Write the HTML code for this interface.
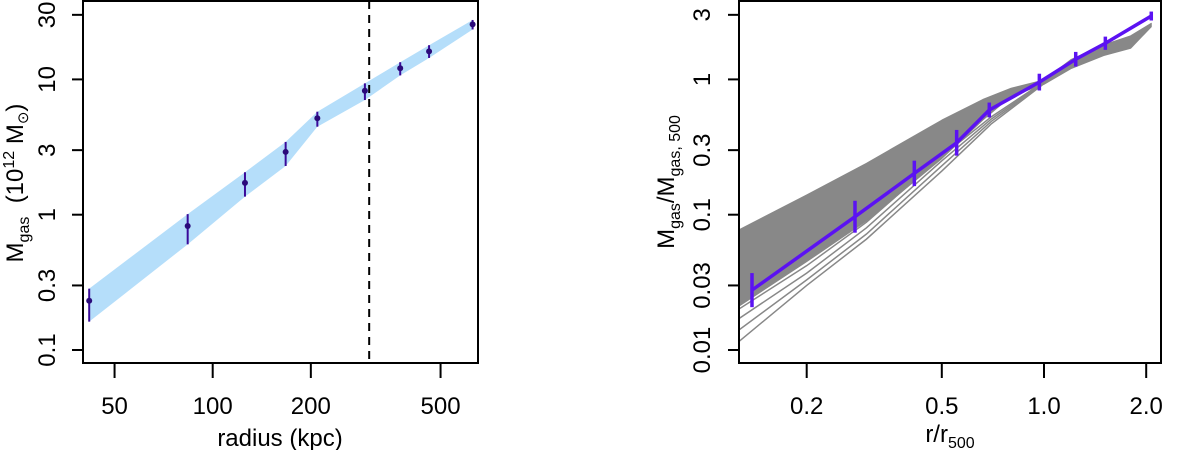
<!DOCTYPE html>
<html><head><meta charset="utf-8">
<style>
html,body{margin:0;padding:0;background:#fff;}
svg{display:block;font-family:"Liberation Sans",sans-serif;}
</style></head>
<body>
<svg id="chart" width="1200" height="450" viewBox="0 0 1200 450" xmlns="http://www.w3.org/2000/svg"></svg>
<script>
// ---------- Left panel data ----------
const radiusKpc = [41.8, 83.8, 125.6, 167.4, 209.4, 293, 376, 461, 627];
const mgas = [0.231, 0.825, 1.72, 2.91, 5.16, 8.24, 12.1, 16.1, 25.5];
const mgasHi = [0.284, 1.01, 2.06, 3.45, 5.77, 9.35, 13.4, 17.9, 27.5];
const mgasLo = [0.162, 0.604, 1.36, 2.29, 4.47, 7.04, 10.7, 14.4, 23.4];
const r500Kpc = 302;
const leftXTicks = [50, 100, 200, 500];
const leftYTicks = [0.1, 0.3, 1, 3, 10, 30];

// ---------- Right panel data ----------
const rScaled = [0.138, 0.2775, 0.415, 0.553, 0.690, 0.969, 1.24, 1.516, 2.07];
const mScaled = [0.0277, 0.0966, 0.202, 0.340, 0.594, 0.955, 1.41, 1.85, 2.94];
const mScaledErrDex = [0.126, 0.118, 0.094, 0.095, 0.055, 0.062, 0.054, 0.049, 0.033];
const envX = [0.126, 0.2, 0.3, 0.5, 0.66, 0.8, 1.0, 1.2, 1.5, 1.8, 2.07];
const envUpper = [0.077, 0.14, 0.24, 0.5, 0.71, 0.86, 0.99, 1.4, 1.8, 2.1, 2.6];
const envLower = [0.021, 0.045, 0.09, 0.26, 0.5, 0.75, 0.92, 1.2, 1.5, 1.7, 2.45];
const sampleX = [0.126, 0.2, 0.3, 0.5, 0.7, 1.0];
const sampleCurves = [
  [0.0115, 0.030, 0.066, 0.21, 0.47, 0.93],
  [0.014, 0.033, 0.072, 0.23, 0.49, 0.94],
  [0.017, 0.037, 0.080, 0.25, 0.51, 0.95],
  [0.020, 0.042, 0.088, 0.27, 0.53, 0.96]
];
const rightXTicks = [0.2, 0.5, 1.0, 2.0];
const rightXLabels = ["0.2", "0.5", "1.0", "2.0"];
const rightYTicks = [0.01, 0.03, 0.1, 0.3, 1, 3];
const rightYLabels = ["0.01", "0.03", "0.1", "0.3", "1", "3"];

const NS = "http://www.w3.org/2000/svg";
const svg = document.getElementById("chart");
function mk(tag, attrs, parent) {
  const e = document.createElementNS(NS, tag);
  for (const k in attrs) e.setAttribute(k, attrs[k]);
  (parent || svg).appendChild(e);
  return e;
}
const L10 = Math.log10;
const FS = 24;
// axis functions
const lx = v => 212.7 + L10(v / 100) * 326;
const ly = v => 350 - (L10(v) + 1) * 135.3;
const rx = v => 1044 + L10(v) * 339.5;
const ry = v => 350 - (L10(v) + 2) * 135.3;

// ===== LEFT PANEL =====
const gL = mk("g", {});


let pts = radiusKpc.map((r, i) => lx(r) + "," + ly(mgasHi[i]));
pts = pts.concat(radiusKpc.map((r, i) => lx(r) + "," + ly(mgasLo[i])).reverse());
const band = mk("polygon", {points: pts.join(" "), fill: "#b5defa", stroke: "none"}, gL);


const dash = mk("line", {x1: lx(r500Kpc), x2: lx(r500Kpc), y1: 1, y2: 363, stroke: "#000", "stroke-width": 2, "stroke-dasharray": "8,6"}, gL);


radiusKpc.forEach((r, i) => {
  const eb = mk("line", {x1: lx(r), x2: lx(r), y1: ly(mgasHi[i]), y2: ly(mgasLo[i]), stroke: "#3a0a9a", "stroke-width": 2}, gL);
  
  
  const c = mk("circle", {cx: lx(r), cy: ly(mgas[i]), r: 3, fill: "#2a0a7a"}, gL);
  
  
});
const frameL = mk("rect", {x: 83, y: 1, width: 395, height: 362, fill: "none", stroke: "#000", "stroke-width": 2}, gL);


leftXTicks.forEach(v => {
  const t = mk("line", {x1: lx(v), x2: lx(v), y1: 363, y2: 378, stroke: "#000", "stroke-width": 2}, gL);
  
  
  const tx = mk("text", {x: lx(v), y: 414, "text-anchor": "middle", "font-size": FS}, gL);
  tx.textContent = String(v);
  
  
});
leftYTicks.forEach(v => {
  const t = mk("line", {x1: 72, x2: 83, y1: ly(v), y2: ly(v), stroke: "#000", "stroke-width": 2}, gL);
  
  
  const tx = mk("text", {x: 0, y: 0, "text-anchor": "middle", "font-size": FS, transform: `translate(55,${ly(v)}) rotate(-90)`}, gL);
  tx.textContent = String(v);
  
  
});
const xtL = mk("text", {x: 280, y: 446, "text-anchor": "middle", "font-size": FS}, gL);
xtL.textContent = "radius (kpc)";


const ytL = mk("text", {x: 0, y: 0, "text-anchor": "middle", "font-size": FS, transform: "translate(23,183) rotate(-90)"}, gL);
ytL.innerHTML = 'M<tspan font-size="16" dy="6">gas</tspan><tspan dy="-6" xml:space="preserve">  (10</tspan><tspan font-size="16" dy="-9">12</tspan><tspan dy="9"> M</tspan><tspan font-size="15" dy="5">⊙</tspan><tspan dy="-5">)</tspan>';



// ===== RIGHT PANEL =====
const gR = mk("g", {});


const clipR = mk("clipPath", {id: "clipR"}); mk("rect", {x: 739, y: 1, width: 422, height: 362}, clipR);
const gClip = mk("g", {"clip-path": "url(#clipR)"}, gR);
let ep = envX.map((x, i) => rx(x) + "," + ry(envUpper[i]));
ep = ep.concat(envX.map((x, i) => rx(x) + "," + ry(envLower[i])).reverse());
const env = mk("polygon", {points: ep.join(" "), fill: "#888", stroke: "#888", "stroke-width": 1, "stroke-linejoin": "round"}, gClip);


sampleCurves.forEach(cv => {
  const pl = mk("polyline", {points: sampleX.map((x, i) => rx(x) + "," + ry(cv[i])).join(" "), fill: "none", stroke: "#888", "stroke-width": 1.5}, gClip);
  
  
});
const pline = mk("polyline", {points: rScaled.map((x, i) => rx(x) + "," + ry(mScaled[i])).join(" "), fill: "none", stroke: "#5b12f2", "stroke-width": 3.5, "stroke-linejoin": "round"}, gR);


rScaled.forEach((x, i) => {
  const y = ry(mScaled[i]), d = mScaledErrDex[i] * 135.3;
  const eb = mk("line", {x1: rx(x), x2: rx(x), y1: y - d, y2: y + d, stroke: "#5b12f2", "stroke-width": 3.5}, gR);
  
  
});
const frameR = mk("rect", {x: 739, y: 1, width: 422, height: 362, fill: "none", stroke: "#000", "stroke-width": 2}, gR);


rightXTicks.forEach((v, i) => {
  const t = mk("line", {x1: rx(v), x2: rx(v), y1: 363, y2: 378, stroke: "#000", "stroke-width": 2}, gR);
  
  
  const tx = mk("text", {x: rx(v), y: 414, "text-anchor": "middle", "font-size": FS}, gR);
  tx.textContent = rightXLabels[i];
  
  
});
rightYTicks.forEach((v, i) => {
  const t = mk("line", {x1: 728, x2: 739, y1: ry(v), y2: ry(v), stroke: "#000", "stroke-width": 2}, gR);
  
  
  const tx = mk("text", {x: 0, y: 0, "text-anchor": "middle", "font-size": FS, transform: `translate(710,${ry(v)}) rotate(-90)`}, gR);
  tx.textContent = rightYLabels[i];
  
  
});
const xtR = mk("text", {x: 950, y: 442, "text-anchor": "middle", "font-size": FS}, gR);
xtR.innerHTML = 'r/r<tspan font-size="16" dy="6">500</tspan>';


const ytR = mk("text", {x: 0, y: 0, "text-anchor": "middle", "font-size": FS, transform: "translate(674,182) rotate(-90)"}, gR);
ytR.innerHTML = 'M<tspan font-size="16" dy="6">gas</tspan><tspan dy="-6">/M</tspan><tspan font-size="16" dy="6">gas, 500</tspan>';


</script>
</body></html>
